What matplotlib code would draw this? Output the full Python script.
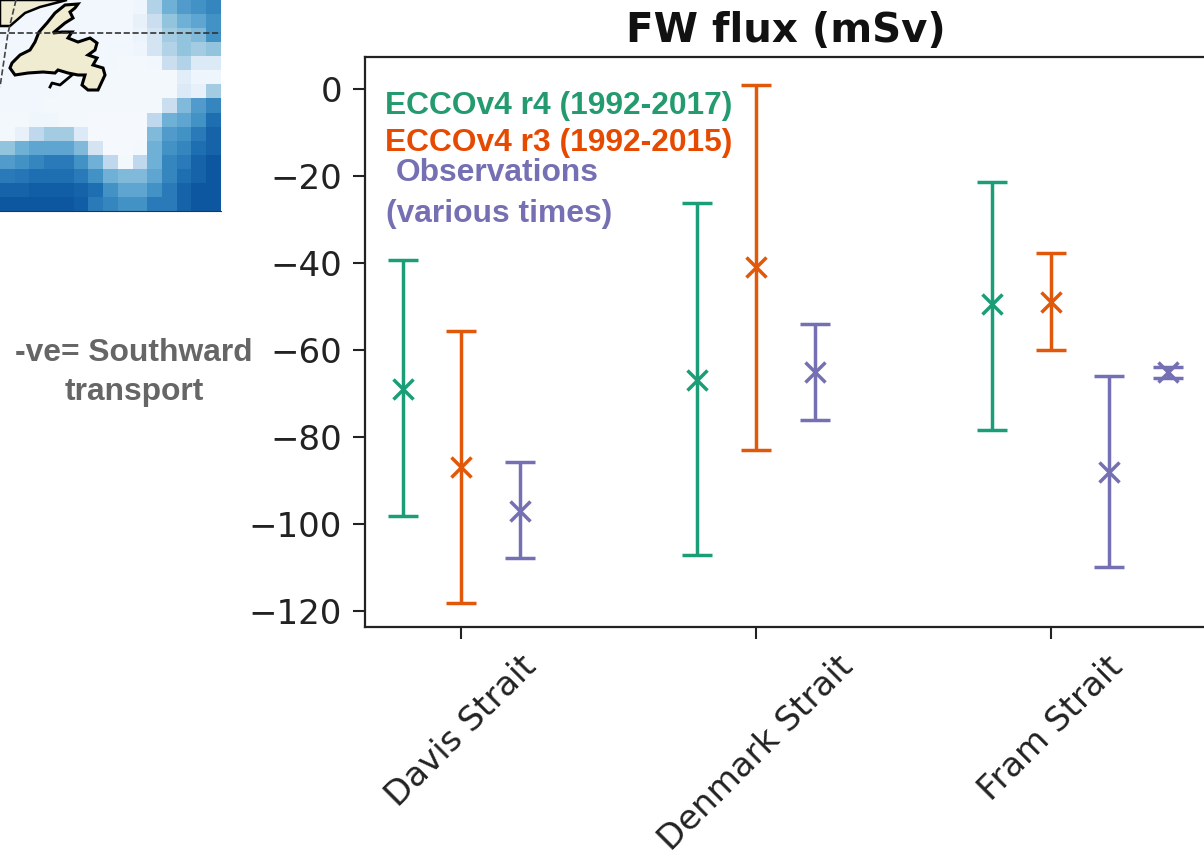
import numpy as np
import matplotlib
matplotlib.use("Agg")
import matplotlib.pyplot as plt

W, H = 1204, 858

straits = ["Davis Strait", "Denmark Strait", "Fram Strait"]
tick_pos = [0, 1, 2]

# Positions along x, mean, upper and lower end of each bar (mSv).
r4_x = [-0.195, 0.8, 1.8]
r4_mean = [-69, -67, -49.5]
r4_high = [-39.3, -26.2, -21.4]
r4_low = [-98.2, -107.1, -78.4]

r3_x = [0.0, 1.0, 2.0]
r3_mean = [-87, -41, -49]
r3_high = [-55.6, 1, -37.7]
r3_low = [-118.2, -83, -60]

obs_x = [0.2, 1.2, 2.195, 2.395]
obs_mean = [-97, -65, -88, -65]
obs_high = [-85.7, -54, -66, -63.9]
obs_low = [-107.8, -76, -110, -66.4]

# Ocean field behind the map corner.
map_field = [
    [.03, .03, .03, .03, .03, .03, .03, .03, .03, .05, .35, .55, .65, .70, .75],
    [.03, .03, .03, .03, .03, .03, .03, .03, .03, .08, .25, .45, .55, .60, .70],
    [.03, .03, .03, .03, .03, .03, .03, .03, .03, .06, .20, .40, .45, .50, .70],
    [.03, .03, .03, .03, .03, .03, .03, .03, .03, .05, .20, .35, .45, .40, .45],
    [.03, .03, .03, .03, .03, .03, .03, .03, .02, .02, .03, .25, .35, .15, .15],
    [.03, .03, .03, .03, .03, .02, .02, .02, .02, .02, .02, .02, .12, .05, .05],
    [.03, .03, .03, .03, .02, .02, .02, .02, .02, .02, .02, .02, .15, .08, .40],
    [.03, .03, .03, .02, .02, .02, .02, .02, .02, .02, .02, .25, .50, .65, .75],
    [.02, .02, .04, .04, .02, .02, .01, .01, .01, .01, .30, .55, .60, .70, .85],
    [.02, .08, .30, .40, .40, .15, .01, .01, .01, .01, .50, .65, .70, .80, .90],
    [.45, .55, .60, .60, .60, .50, .20, .01, .01, .02, .55, .70, .75, .85, .90],
    [.65, .70, .75, .80, .80, .70, .55, .30, .02, .30, .55, .75, .80, .90, .95],
    [.80, .82, .85, .85, .85, .80, .70, .55, .50, .50, .60, .75, .85, .90, .95],
    [.90, .90, .92, .92, .92, .90, .85, .70, .60, .60, .70, .80, .90, .95, .95],
    [.95, .95, .95, .95, .95, .92, .80, .75, .70, .70, .80, .80, .90, .95, .95],
]

# Coastlines, in map pixels.
island_x = [10, 12, 20, 30, 35, 39, 47, 55, 65, 78, 75, 70, 73, 65, 53, 62, 72, 68, 78, 90, 97, 95, 88, 97, 93,
            103, 105, 98, 88, 82, 85, 78, 68, 58, 55, 43, 28, 15, 10]
island_y = [68, 63, 55, 50, 42, 32, 23, 13, 5, 4, 8, 12, 18, 23, 33, 32, 32, 38, 42, 38, 43, 50, 55, 58, 65,
            68, 75, 90, 90, 85, 75, 75, 73, 70, 73, 72, 73, 75, 68]
burin_x = [50, 52, 60, 72]
burin_y = [87, 83, 85, 75]
labrador_x = [0, 0, 10, 25, 40, 67]
labrador_y = [0, 26, 26, 13, 7, 0]

GREEN = "#1b9e77"
ORANGE = "#e2580b"
PURPLE = "#7570b3"
INK = "#222222"


def fx(px):
    return px / W


def fy(py):
    return 1 - py / H


def draw_bars(ax, x, mean, high, low, color, lw):
    mean = np.array(mean)
    yerr = [mean - np.array(low), np.array(high) - mean]
    ax.errorbar(x, mean, yerr=yerr, fmt="x", color=color, ecolor=color, elinewidth=lw,
                capsize=10.8, capthick=1.9, markersize=14.5, markeredgewidth=lw)


fig = plt.figure(figsize=(W / 100, H / 100), dpi=100)

# Flux panel.
ax = fig.add_axes([fx(365), fy(627), (1206 - 365) / W, 570 / H])
draw_bars(ax, r4_x, r4_mean, r4_high, r4_low, GREEN, 2.5)
draw_bars(ax, r3_x, r3_mean, r3_high, r3_low, ORANGE, 2.5)
draw_bars(ax, obs_x, obs_mean, obs_high, obs_low, PURPLE, 2.5)
ax.set_xlim(-0.325, 2.525)
ax.set_ylim(-123.7, 7.36)
ax.set_yticks(np.arange(-120, 1, 20))
ax.set_xticks(tick_pos)
ax.set_xticklabels(straits, rotation=45, ha="center")
ax.tick_params(axis="both", labelsize=24.5, length=8.5, width=1.5, pad=8, color=INK, labelcolor=INK)
for s in ax.spines.values():
    s.set_linewidth(1.6)
    s.set_color(INK)
ax.set_title("FW flux (mSv)", fontsize=29, fontweight="bold", pad=11, color="#111111")

# Map corner.
m = fig.add_axes([0, fy(211), 221 / W, 211 / H])
m.imshow(map_field, cmap="Blues", vmin=0, vmax=1.12, extent=(0, 221, 211, 0),
         interpolation="nearest", aspect="auto")
m.fill(labrador_x, labrador_y, facecolor="#efecd2", edgecolor="black", lw=1.8)
m.fill(island_x, island_y, facecolor="#efecd2", edgecolor="black", lw=2.2)
m.plot(burin_x, burin_y, color="black", lw=2)
m.plot([0, 221], [33, 33], color="#333333", lw=1.2, ls="--")
m.plot([16, 8, 0], [0, 33, 87], color="#444444", lw=1.2, ls="--")
m.set_xlim(0, 221)
m.set_ylim(211, 0)
m.set_xticks([])
m.set_yticks([])
for side in ["top", "left", "right"]:
    m.spines[side].set_visible(False)
m.spines["bottom"].set_color("#333333")

# Annotations added on top of the panel.
font = {"family": "Liberation Sans", "fontweight": "bold", "fontsize": 22.9}
fig.text(fx(385), fy(106), "ECCOv4 r4 (1992-2017)", color="#239b6e", va="center", **font)
fig.text(fx(385), fy(143), "ECCOv4 r3 (1992-2015)", color="#e64a00", va="center", **font)
fig.text(fx(396), fy(173), "Observations", color=PURPLE, va="center", **font)
fig.text(fx(386), fy(214), "(various times)", color=PURPLE, va="center", **font)
fig.text(fx(134), fy(353), "-ve= Southward", color="#666666", va="center", ha="center", **font)
fig.text(fx(134), fy(392), "transport", color="#666666", va="center", ha="center", **font)

fig.savefig("out.png", dpi=100)
